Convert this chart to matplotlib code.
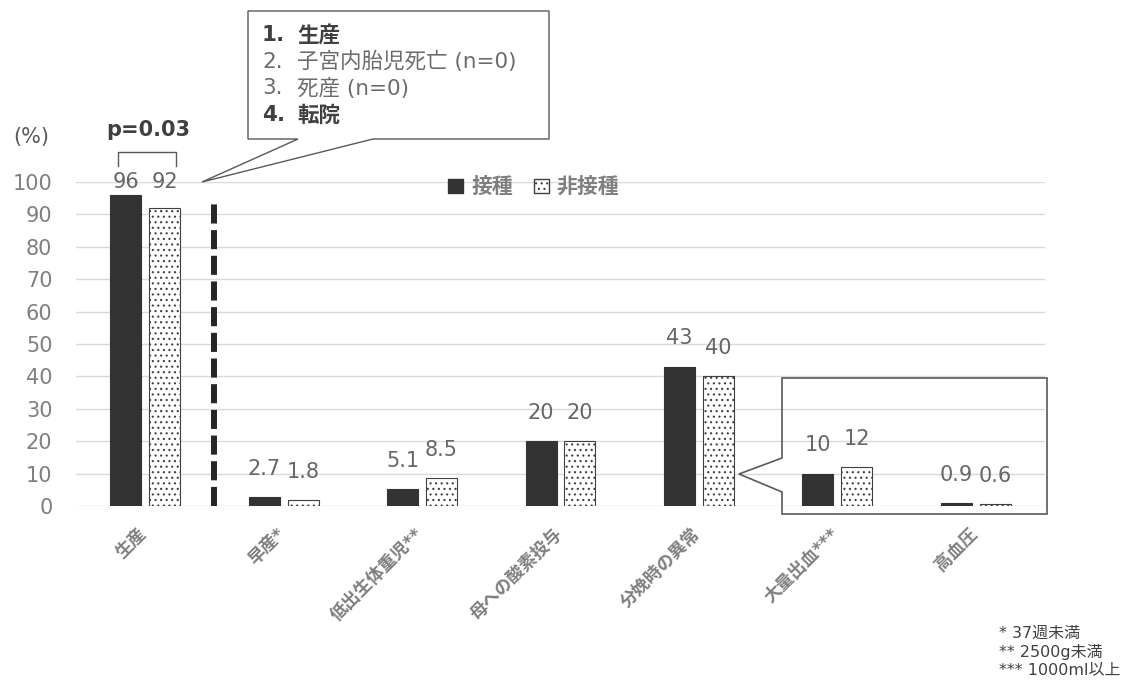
import matplotlib
matplotlib.use("Agg")
import matplotlib.pyplot as plt
import numpy as np
from matplotlib.patches import Patch, Polygon
from matplotlib.transforms import ScaledTranslation

plt.rcParams["font.family"] = ["DejaVu Sans", "Noto Sans CJK JP"]
plt.rcParams["hatch.linewidth"] = 0.8

# outcome rates (%) for vaccinated / unvaccinated mothers
categories = ["生産", "早産*", "低出生体重児**", "母への酸素投与", "分娩時の異常", "大量出血***", "高血圧"]
vaccinated = [96, 2.7, 5.1, 20, 43, 10, 0.9]
unvaccinated = [92, 1.8, 8.5, 20, 40, 12, 0.6]
series_names = ["接種", "非接種"]
p_value_text = "p=0.03"

outcome_items = ["生産", "子宮内胎児死亡 (n=0)", "死産 (n=0)", "転院"]
outcome_bold = [True, False, False, True]
footnotes = ["* 37週未満", "** 2500g未満", "*** 1000ml以上"]

W, H = 1131, 682
fig = plt.figure(figsize=(W / 100, H / 100), dpi=100)
ax = fig.add_axes([76 / W, 1 - 506 / H, 969 / W, 324 / H])


def fig_xy(px, py):
    # pixel position -> figure fraction
    return px / W, 1 - py / H


x = np.arange(len(categories))
bw = 0.224
off = 0.14
ax.bar(x - off, vaccinated, bw, color="#333333", edgecolor="#333333", lw=0.8, zorder=2)
ax.bar(x + off, unvaccinated, bw, color="white", edgecolor="#404040", hatch="...", lw=0.8, zorder=2)

ax.set_xlim(-0.5, len(categories) - 0.5)
ax.set_ylim(0, 100)
ax.set_yticks(range(0, 101, 10))
ax.grid(axis="y", color="#d9d9d9", lw=1)
ax.set_axisbelow(True)
for s in ax.spines.values():
    s.set_visible(False)
ax.tick_params(axis="y", length=0, pad=17, labelsize=15, labelcolor="#7f7f7f")
ax.tick_params(axis="x", length=0, pad=13.5)
ax.set_xticks(x)
ax.set_xticklabels(categories, rotation=45, ha="right", va="top",
                   fontsize=12.5, fontweight="bold", color="#7f7f7f")
shift = ScaledTranslation(5 / 100, 0, fig.dpi_scale_trans)
for lbl in ax.get_xticklabels():
    lbl.set_transform(lbl.get_transform() + shift)

# value labels
for i, (a, b) in enumerate(zip(vaccinated, unvaccinated)):
    if i == 0:
        ya = yb = max(a, b)
        dy = 9.5
    else:
        ya, yb, dy = a, b, 20.5
    ax.annotate(f"{a:g}", (i - off, ya), xytext=(0, dy), textcoords="offset points",
                ha="center", va="center", fontsize=15, color="#666666")
    ax.annotate(f"{b:g}", (i + off, yb), xytext=(0, dy), textcoords="offset points",
                ha="center", va="center", fontsize=15, color="#666666")

# separator between live birth and the other outcomes
ax.plot([0.5, 0.5], [0, 95], color="#262626", lw=4.3, dashes=(3.2, 1.1), zorder=3)

# significance bracket
ax.plot([-0.2, -0.2, 0.22, 0.22], [104.9, 109.3, 109.3, 104.9],
        color="#595959", lw=1, clip_on=False)
ax.text(0.02, 116, p_value_text, ha="center", va="center", fontsize=15,
        fontweight="bold", color="#404040")

fig.text(*fig_xy(31, 137), "(%)", ha="center", va="center", fontsize=15, color="#595959")

handles = [Patch(facecolor="#333333", edgecolor="#333333"),
           Patch(facecolor="white", edgecolor="#404040", hatch="...")]
leg = fig.legend(handles, series_names, loc="center", bbox_to_anchor=fig_xy(534, 187),
                 ncol=2, frameon=False, prop={"size": 15, "weight": "bold"},
                 handlelength=0.7, handleheight=0.7, handletextpad=0.4, columnspacing=1.0)
for t in leg.get_texts():
    t.set_color("#7f7f7f")

# callout listing the delivery outcomes
box1 = [(248, 11), (549, 11), (549, 139), (373, 139), (202, 182), (298, 139), (248, 139)]
fig.add_artist(Polygon([fig_xy(*p) for p in box1], closed=True, transform=fig.transFigure,
                       facecolor="white", edgecolor="#595959", lw=1, zorder=5))
for k, (item, bold) in enumerate(zip(outcome_items, outcome_bold)):
    yy = 35 + k * 26.7
    col = "#404040" if bold else "#6b6b6b"
    wt = "bold" if bold else "normal"
    fig.text(*fig_xy(262, yy), f"{k + 1}.", ha="left", va="center", fontsize=15.5,
             fontweight=wt, color=col, zorder=6)
    fig.text(*fig_xy(297, yy), item, ha="left", va="center", fontsize=15.5,
             fontweight=wt, color=col, zorder=6)

# zoom callout around the small outcomes
box2 = [(782, 378), (1047, 378), (1047, 514), (782, 514), (782, 492), (739, 474), (782, 458)]
fig.add_artist(Polygon([fig_xy(*p) for p in box2], closed=True, transform=fig.transFigure,
                       facecolor="none", edgecolor="#595959", lw=1.2, zorder=5))

for k, note in enumerate(footnotes):
    fig.text(*fig_xy(999, 633 + k * 18.5), note, ha="left", va="center",
             fontsize=11.5, color="#404040")

fig.savefig("out.png", dpi=100)
